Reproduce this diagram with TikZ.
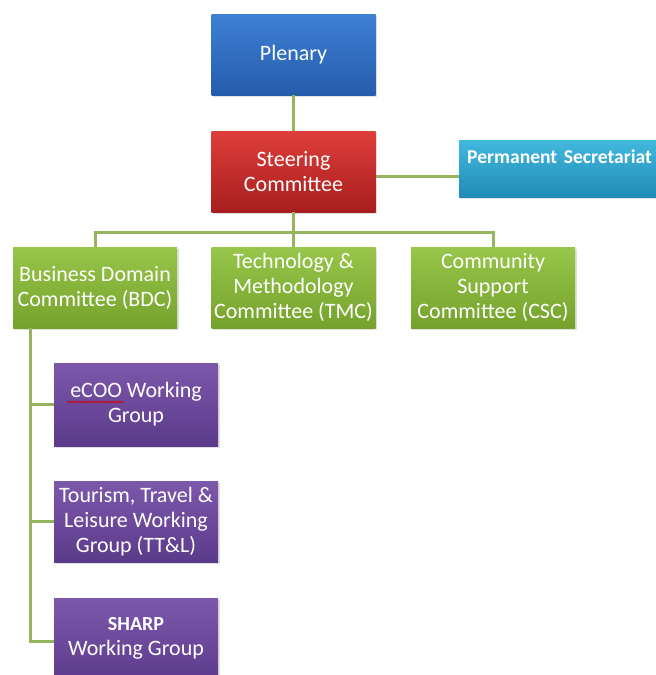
\documentclass[tikz,border=0pt]{standalone}
\usepackage{fontspec}
\setmainfont{Carlito}
\usetikzlibrary{shadows,decorations.pathmorphing}
\definecolor{plenarytop}{RGB}{62, 128, 212}
\definecolor{plenarybot}{RGB}{38, 92, 172}
\definecolor{steertop}{RGB}{222, 62, 58}
\definecolor{steerbot}{RGB}{168, 30, 30}
\definecolor{secrtop}{RGB}{66, 184, 222}
\definecolor{secrbot}{RGB}{32, 140, 182}
\definecolor{comtop}{RGB}{152, 198, 74}
\definecolor{combot}{RGB}{116, 162, 44}
\definecolor{grouptop}{RGB}{124, 88, 170}
\definecolor{groupbot}{RGB}{92, 58, 138}
\definecolor{linkgreen}{RGB}{150, 180, 92}

\tikzset{
    orgbox/.style={rectangle, text=white, align=center, inner sep=0pt,
                   minimum width=164pt, minimum height=81pt,
                   font=\fontsize{22}{25}\selectfont,
                   drop shadow={opacity=0.25, shadow xshift=1.5pt, shadow yshift=-2pt}},
    plenarybox/.style={orgbox, top color=plenarytop, bottom color=plenarybot},
    steerbox/.style={orgbox, top color=steertop, bottom color=steerbot},
    secrbox/.style={orgbox, top color=secrtop, bottom color=secrbot},
    combox/.style={orgbox, top color=comtop, bottom color=combot},
    groupbox/.style={orgbox, top color=grouptop, bottom color=groupbot},
    link/.style={draw=linkgreen, line width=3pt}
}

\begin{document}
\begin{tikzpicture}[x=1pt, y=-1pt]
    \useasboundingbox (0,0) rectangle (656,675);
    \clip (0,0) rectangle (656,675);
    \fill[white] (0,0) rectangle (656,675);

    % top of the chart
    \node[plenarybox] (plenary)  at (293.5, 54.5) {Plenary};
    \node[steerbox]   (steering) at (293.5,171.5) {Steering\\Committee};
    \node[secrbox, anchor=north west, minimum width=241pt, minimum height=57pt,
          text width=225pt, inner xsep=8pt, align=left, text height=23pt, text depth=34pt,
          font=\fontsize{19.6}{22}\selectfont\bfseries] (secr) at (459,140) {Permanent Secretariat};

    % committees
    \node[combox] (bdc) at ( 95.0,287.5) {Business Domain\\Committee (BDC)};
    \node[combox] (tmc) at (293.5,287.5) {Technology \&\\Methodology\\Committee (TMC)};
    \node[combox] (csc) at (493.0,287.5) {Community\\Support\\Committee (CSC)};

    % working groups
    \node[groupbox, minimum height=83pt] (ecoo) at (136,404.5) {eCOO Working\\Group};
    \node[groupbox] (ttl) at (136,521.5) {Tourism, Travel \&\\Leisure Working\\Group (TT\&L)};
    \node[groupbox, minimum height=86pt, text depth=10pt] (sharp) at (136,641)
         {{\fontsize{20}{25}\selectfont\bfseries SHARP}\\Working Group};
    \draw[red!85!black, line width=0.7pt, decorate,
          decoration={snake, amplitude=0.8pt, segment length=3pt}] (67,402) -- (124,402);

    % connectors
    \coordinate (bus) at (293.5,232);
    \draw[link] (plenary.south) -- (steering.north);
    \draw[link] ([yshift=-5pt]steering.east) -- ([yshift=-5pt]steering.east -| secr.west);
    \draw[link] (steering.south) -- (bus) -| (bdc.north);
    \draw[link] (bus) -| (csc.north);
    \draw[link] (bus) -- (tmc.north);
    \coordinate (spine) at ([xshift=-65pt]bdc.south);
    \draw[link] (spine) |- (sharp.west);
    \draw[link] (spine |- ecoo.west) -- (ecoo.west);
    \draw[link] (spine |- ttl.west) -- (ttl.west);
\end{tikzpicture}
\end{document}
